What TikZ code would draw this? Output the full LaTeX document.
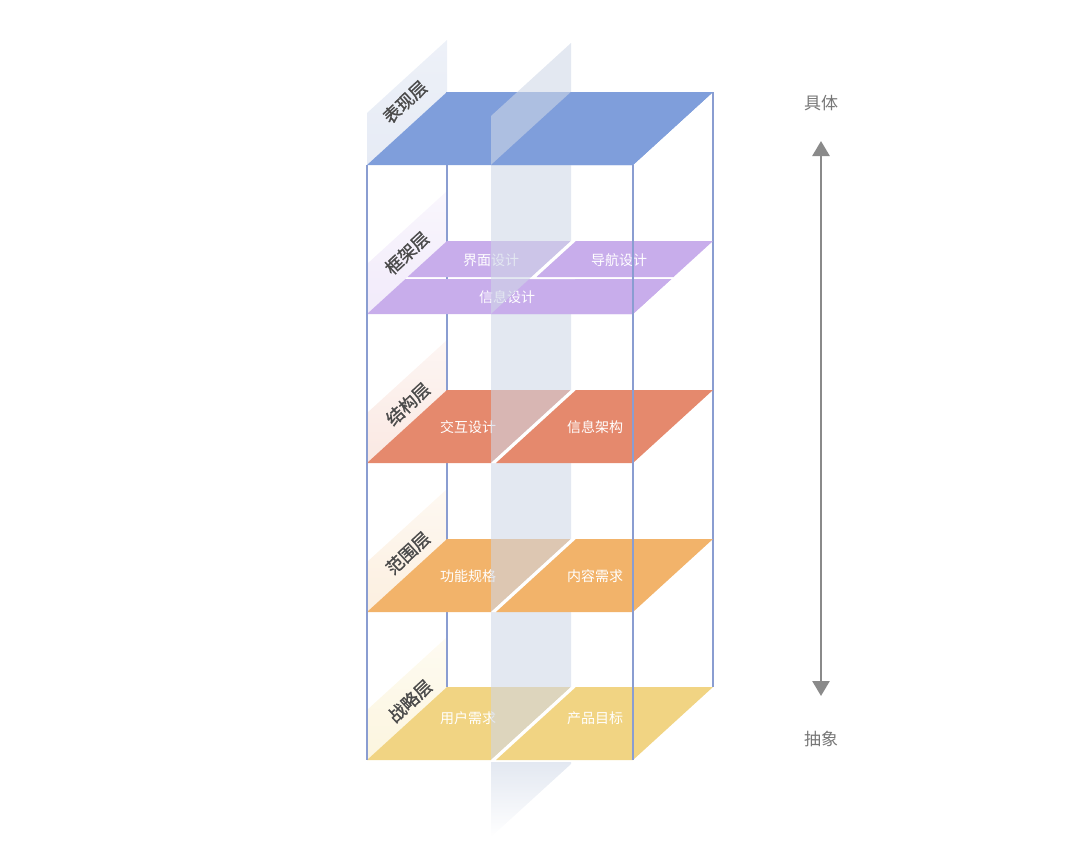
\documentclass[tikz,border=0pt]{standalone}
\usepackage{fontspec}
\newfontfamily\cjk{Noto Sans CJK SC}
\newfontfamily\cjkbold[FakeBold=1.2]{Noto Sans CJK SC}
\usetikzlibrary{arrows.meta}
\definecolor{cblue}{HTML}{7F9EDB}
\definecolor{cpurple}{HTML}{C8ADEB}
\definecolor{cred}{HTML}{E5896D}
\definecolor{corange}{HTML}{F2B36A}
\definecolor{cyellow}{HTML}{F1D483}
\definecolor{edgeblue}{HTML}{8A9DD1}
\definecolor{bandc}{HTML}{CFD7E7}
\definecolor{bandw}{HTML}{E3E8F1}
\definecolor{lblue}{HTML}{E6EBF5}
\definecolor{lpurple}{HTML}{F1EAFA}
\definecolor{lred}{HTML}{FAE8E2}
\definecolor{lorange}{HTML}{FCEFDF}
\definecolor{lyellow}{HTML}{FCF5DE}
\definecolor{labelgray}{HTML}{4A4A4A}
\definecolor{axisgray}{HTML}{8A8A8A}
\definecolor{axistext}{HTML}{777777}
\begin{document}
\begin{tikzpicture}[x=1pt,y=-1pt,
  vline/.style={draw=edgeblue, line width=1.8pt},
  layertext/.style={text=white, font=\cjk\fontsize{14}{16}\selectfont, inner sep=0pt},
  labeltext/.style={text=labelgray, font=\cjkbold\fontsize{17.5}{19}\selectfont, rotate=43, inner sep=0pt},
  axislabel/.style={text=axistext, font=\cjk\fontsize{17}{19}\selectfont, inner sep=0pt},
  band/.style={fill=bandc, fill opacity=0.58},
  gap/.style={fill=white}]
\useasboundingbox (0,0) rectangle (1080,854);

% label planes (left side, vertical)
\shade[top color=lblue!70!white, bottom color=lblue] (367,165) -- (367,113) -- (447,40) -- (447,92) -- cycle;
\shade[top color=lpurple!40!white, bottom color=lpurple] (367,314) -- (367,264) -- (447,191) -- (447,241) -- cycle;
\shade[top color=lred!40!white, bottom color=lred] (367,463) -- (367,413) -- (447,340) -- (447,390) -- cycle;
\shade[top color=lorange!40!white, bottom color=lorange] (367,612) -- (367,562) -- (447,489) -- (447,539) -- cycle;
\shade[top color=lyellow!40!white, bottom color=lyellow] (367,760) -- (367,710) -- (447,637) -- (447,687) -- cycle;

% back vertical edges
\draw[vline] (447,92) -- (447,687);
\draw[vline] (713,92) -- (713,687);

% layer planes behind the band
\fill[cblue] (367,165) -- (633,165) -- (713,92) -- (447,92) -- cycle;
% frame layer
\fill[cpurple] (407.5,277) -- (531.5,277) -- (571,241) -- (447,241) -- cycle;
\fill[cpurple] (367,314) -- (633,314) -- (671.4,279) -- (405.4,279) -- cycle;
\node[layertext] (t1a) at (491,260) {界面设计};
\node[layertext] (t1c) at (507,297) {信息设计};
% structure layer
\fill[cred] (367,463) -- (491,463) -- (571,390) -- (447,390) -- cycle;
\node[layertext] (t2a) at (468,427) {交互设计};
% scope layer
\fill[corange] (367,612) -- (491,612) -- (571,539) -- (447,539) -- cycle;
\node[layertext] (t3a) at (468,576) {功能规格};
% strategy layer
\fill[cyellow] (367,760) -- (491,760) -- (571,687) -- (447,687) -- cycle;
\node[layertext] (t4a) at (468,718) {用户需求};

% translucent vertical band
\fill[band] (491,116) -- (571,43) -- (571,687) -- (491,760) -- cycle;
\shade[top color=bandw, bottom color=white] (491,762) -- (571,762) -- (571,764) -- (491,837) -- cycle;

% parts of the layers in front of the band
\begin{scope}
  \clip (491,165) -- (571,92) -- (720,92) -- (720,165) -- cycle;
  \fill[cblue] (367,165) -- (633,165) -- (713,92) -- (447,92) -- cycle;
\end{scope}
\begin{scope}
  \clip (491,314) -- (529.4,279) -- (720,279) -- (720,314) -- cycle;
  \fill[cpurple] (367,314) -- (633,314) -- (671.4,279) -- (405.4,279) -- cycle;
  \node[layertext] at (507,297) {信息设计};
\end{scope}
\fill[gap] (531.5,277) -- (575,277) -- (575,279) -- (529.4,279) -- cycle;
\fill[gap] (531.5,277) -- (571,241) -- (576,241) -- (536.5,277) -- cycle;
\fill[cpurple] (536.5,277) -- (673.5,277) -- (713,241) -- (576,241) -- cycle;
\node[layertext] (t1b) at (619,260) {导航设计};

\fill[gap] (491,463) -- (571,390) -- (576,390) -- (496,463) -- cycle;
\fill[cred] (496,463) -- (633,463) -- (713,390) -- (576,390) -- cycle;
\node[layertext] (t2b) at (595,427) {信息架构};

\fill[gap] (491,612) -- (571,539) -- (576,539) -- (496,612) -- cycle;
\fill[corange] (496,612) -- (633,612) -- (713,539) -- (576,539) -- cycle;
\node[layertext] (t3b) at (595,576) {内容需求};

\fill[gap] (491,760) -- (571,687) -- (576,687) -- (496,760) -- cycle;
\fill[cyellow] (496,760) -- (633,760) -- (713,687) -- (576,687) -- cycle;
\node[layertext] (t4b) at (595,718) {产品目标};

% front vertical edges
\draw[vline] (367,165) -- (367,760);
\draw[vline] (633,165) -- (633,760);

% layer names
\node[labeltext] (n0) at (405,102) {表现层};
\node[labeltext] (n1) at (407,253) {框架层};
\node[labeltext] (n2) at (408,404) {结构层};
\node[labeltext] (n3) at (408,553) {范围层};
\node[labeltext] (n4) at (410,701) {战略层};

% axis
\node[axislabel] (top) at (821,103) {具体};
\node[axislabel] (bot) at (821,739) {抽象};
\coordinate (atop) at (821,141);
\coordinate (abot) at (821,696);
\draw[axisgray, line width=2.6pt, {Triangle[width=17pt,length=15pt]}-{Triangle[width=17pt,length=15pt]}] (atop) -- (abot);
\end{tikzpicture}
\end{document}
